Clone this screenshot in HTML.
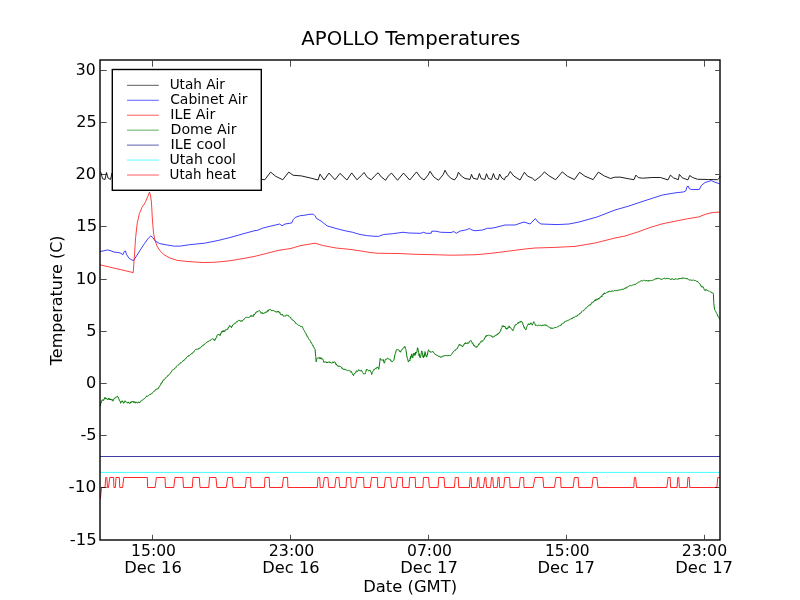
<!DOCTYPE html>
<html lang="en">
<head>
<meta charset="utf-8">
<title>APOLLO Temperatures</title>
<style>
html,body{margin:0;padding:0;background:#fff;}
body{width:800px;height:600px;overflow:hidden;}
svg{display:block;}
text{font-family:"DejaVu Sans","Liberation Sans",sans-serif;fill:#000;}
.tk{font-size:16.67px;}
.lg{font-size:13.89px;}
.ttl{font-size:19.44px;}
.ln{fill:none;stroke-width:0.75;stroke-linejoin:round;stroke-linecap:butt;}
.tick{stroke:#000;stroke-width:0.7;}
</style>
</head>
<body>
<svg width="800" height="600" viewBox="0 0 800 600">
<rect x="0" y="0" width="800" height="600" fill="#fff"/>

<g id="curves">
<polyline class="ln" style="stroke-width:0.88" stroke="#000" points="100.00,171.90 101.00,172.50 102.50,178.75 105.00,179.50 106.50,172.50 108.00,178.00 110.50,179.50 112.00,173.00 114.00,178.00 116.00,179.60"/>
<polyline class="ln" style="stroke-width:0.88" stroke="#000" points="261.90,179.40 264.75,179.75 270.60,172.10 275.60,176.25 282.75,179.75 288.75,172.10 293.10,175.25 301.25,175.90 310.00,177.90 318.10,180.00 320.00,174.10 324.10,180.00 329.00,173.10 335.00,179.75 340.00,173.40 346.90,180.00 351.70,172.90 356.90,179.75 361.25,175.60 364.00,172.50 367.50,177.50 371.25,179.75 375.00,175.60 378.10,172.75 381.25,176.90 385.60,180.25 388.10,176.25 391.50,173.10 397.50,180.25 403.50,173.10 409.75,180.00 416.50,171.90 420.60,177.50 424.00,180.00 428.10,175.00 430.00,171.25 433.75,176.90 438.50,180.25 443.10,174.75 445.00,170.25 447.50,174.75 450.60,178.10 454.40,180.00 456.90,176.90 458.40,172.25 461.25,176.00 465.00,178.50 470.00,179.40 471.50,174.40 473.10,178.10 477.50,179.40 479.40,173.50 481.25,178.50 484.75,179.60 486.50,173.75 488.50,178.50 491.50,179.60 493.40,173.50 495.25,178.50 498.10,179.60 499.60,174.10 501.90,178.10 504.40,179.75 505.60,176.90 507.50,176.25 510.25,171.50 513.75,176.00 520.00,180.00 522.50,175.60 524.40,172.25 527.50,176.10 532.50,178.30 535.00,180.60 541.25,175.60 544.40,171.90 548.75,175.60 555.60,179.75 562.25,171.90 567.50,176.25 574.40,179.60 579.60,172.25 585.00,176.25 593.10,179.60 598.40,172.10 604.40,176.00 610.60,178.50 614.40,177.25 620.00,177.10 628.75,178.80 634.00,179.70 635.90,175.10 638.40,177.60 642.50,178.20 652.10,177.50 660.40,177.50 668.00,179.90 670.40,175.10 673.50,177.90 678.30,179.70 679.40,174.40 682.40,177.90 687.90,179.90 689.70,175.50 692.70,177.50 697.50,179.25 708.50,179.50 717.50,179.70 719.50,177.90 720.00,175.80"/>
<polyline class="ln" stroke="#00f" points="100.00,251.50 103.00,251.00 107.50,249.90 111.00,250.80 114.00,252.10 118.80,252.60 121.00,253.30 122.80,254.70 124.20,251.60 125.40,250.90 126.60,254.60 129.20,258.40 131.50,259.80 133.50,260.50 136.50,256.00 140.00,250.40 144.50,243.50 148.25,238.25 150.80,236.00 152.75,237.50 155.00,240.80 159.50,243.50 167.00,245.00 174.50,246.20 180.50,246.05 189.50,244.70 204.50,243.20 218.00,240.50 230.00,237.50 245.00,233.30 255.00,230.60 257.25,230.40 262.50,228.20 270.00,226.25 279.75,224.00 282.00,225.80 285.00,224.00 291.75,222.95 293.25,219.50 295.50,217.25 300.00,215.75 306.00,215.00 309.75,214.25 313.50,214.25 315.00,215.75 316.50,218.45 321.00,221.00 327.00,225.80 336.00,228.50 345.00,230.75 352.50,232.25 360.00,234.50 367.50,235.70 375.00,236.30 378.25,236.45 383.50,234.50 392.50,233.75 403.00,232.25 409.00,233.00 421.00,233.30 423.25,232.25 426.25,233.30 431.20,233.30 431.80,231.20 436.00,231.20 440.50,232.25 451.00,232.55 453.70,231.50 456.25,233.30 460.00,231.05 466.75,229.70 469.30,228.50 472.00,230.00 475.00,230.75 482.50,230.00 487.75,228.20 490.00,228.40 495.00,227.60 505.00,225.00 515.00,225.00 524.00,222.00 530.00,224.00 535.40,218.60 538.00,222.00 541.00,224.00 557.00,224.60 569.00,224.00 579.00,222.00 597.00,217.00 615.00,210.00 629.00,206.00 637.50,203.10 650.00,199.00 662.50,195.00 675.00,192.90 683.75,191.90 686.00,190.60 686.90,186.90 688.10,186.00 689.40,188.75 691.90,189.60 699.40,189.40 701.25,185.60 705.00,182.50 711.25,180.60 715.00,182.25 719.60,183.75"/>
<polyline class="ln" stroke="#f00" points="100.00,264.80 133.20,272.60 134.40,256.00 135.60,237.80 137.20,223.40 139.30,213.80 142.00,207.40 145.20,202.60 147.50,197.20 149.50,192.10 150.60,196.00 151.50,203.00 152.30,218.00 153.50,233.00 155.00,240.50 157.25,246.50 160.25,251.00 164.00,254.75 170.00,258.05 177.50,260.45 188.00,261.50 203.00,262.55 215.00,262.25 230.00,260.75 245.00,258.20 255.00,256.30 267.00,253.25 279.00,250.25 291.00,248.45 300.00,245.75 315.00,243.20 322.50,245.45 336.00,248.00 351.00,249.50 363.00,251.30 370.00,252.50 377.50,253.25 400.00,253.55 415.00,254.30 436.00,254.75 451.00,255.20 460.00,255.05 475.00,254.75 484.00,254.00 490.00,253.40 505.00,251.60 525.00,249.00 535.00,248.00 555.00,247.40 575.00,246.40 595.00,243.00 615.00,238.00 625.00,236.00 637.50,232.10 650.00,227.50 662.50,223.75 675.00,221.25 687.50,218.75 698.75,216.90 706.25,214.00 712.50,212.50 719.60,212.10"/>
<polyline class="ln" style="stroke-width:1.0" stroke="#007a00" points="100.25,406.25 100.65,404.17 101.05,402.09 101.10,402.50 101.45,402.10 101.85,400.29 102.25,400.35 102.40,400.00 102.65,399.88 103.05,399.53 103.45,400.54 103.60,400.60 103.85,399.29 104.25,399.23 104.65,397.81 104.90,398.10 105.05,397.44 105.45,398.23 105.85,399.15 106.25,398.08 106.65,398.45 106.75,399.00 107.05,399.15 107.45,399.62 107.85,398.84 108.25,398.41 108.60,398.50 108.65,399.40 109.05,398.04 109.45,399.82 109.85,399.11 110.25,399.16 110.50,400.00 110.65,399.24 111.05,399.39 111.45,400.11 111.75,399.40 111.85,398.97 112.25,400.29 112.65,400.98 113.00,401.25 113.05,400.94 113.45,400.59 113.85,399.05 114.25,398.38 114.65,397.99 114.90,398.10 115.05,398.31 115.45,397.56 115.85,397.06 116.25,397.26 116.65,396.72 117.05,396.15 117.40,396.25 117.45,396.86 117.85,397.30 118.25,397.10 118.60,398.10 118.65,398.35 119.05,399.19 119.45,400.74 119.85,401.41 120.25,401.54 120.50,402.50 120.65,403.27 121.05,401.45 121.45,401.73 121.85,402.07 122.25,400.72 122.40,401.25 122.65,401.62 123.05,401.42 123.45,403.17 123.60,403.10 123.85,403.17 124.25,402.18 124.65,402.08 124.90,401.00 125.05,400.75 125.45,401.68 125.85,401.73 126.25,401.95 126.65,401.96 126.75,402.10 127.05,402.81 127.45,403.12 127.85,402.41 128.25,402.88 128.65,401.92 129.05,403.20 129.25,402.90 129.45,403.10 129.85,403.60 130.25,403.16 130.65,402.06 131.05,402.12 131.45,402.50 131.75,402.10 131.85,401.25 132.25,402.08 132.65,401.60 133.05,401.55 133.45,401.49 133.85,402.81 134.25,401.70 134.65,401.96 135.05,402.26 135.45,403.16 135.50,402.50 135.85,401.72 136.25,402.36 136.65,402.51 137.05,403.09 137.45,402.94 137.85,403.00 138.25,401.92 138.65,402.14 139.05,402.01 139.25,402.25 139.45,402.83 139.85,402.75 140.25,401.36 140.65,401.17 141.05,401.01 141.45,400.80 141.75,400.90 141.85,400.79 142.25,400.52 142.65,399.83 143.05,399.20 143.45,399.24 143.85,398.82 144.25,398.64 144.65,398.66 145.05,398.02 145.45,397.47 145.85,397.20 146.25,396.89 146.65,395.90 146.75,396.25 147.05,396.51 147.45,396.21 147.85,396.13 148.25,395.87 148.65,395.29 149.05,395.11 149.45,394.64 149.85,394.99 150.25,394.24 150.65,394.06 151.05,394.02 151.45,393.80 151.75,394.00 151.85,393.73 152.25,393.02 152.65,392.54 153.05,392.26 153.45,391.79 153.85,391.62 154.25,390.86 154.65,391.28 155.05,390.59 155.45,389.70 155.50,390.00 155.85,389.54 156.25,389.39 156.65,389.16 157.05,388.67 157.45,389.15 157.85,389.05 158.25,388.28 158.60,388.10 158.65,388.00 159.05,386.90 159.45,386.22 159.85,385.77 160.25,384.99 160.65,384.86 161.05,383.50 161.10,383.75 161.45,382.75 161.85,383.08 162.25,382.05 162.65,381.07 163.05,380.87 163.45,379.75 163.60,380.00 163.85,379.78 164.25,379.83 164.65,379.31 165.05,378.75 165.45,377.91 165.85,377.62 166.25,377.02 166.65,377.22 167.05,376.58 167.45,376.43 167.85,375.58 168.00,375.60 168.25,375.04 168.65,375.18 169.05,374.91 169.45,374.33 169.85,373.83 170.25,373.40 170.65,372.87 171.05,371.91 171.45,371.75 171.85,371.14 172.25,370.37 172.65,369.92 173.00,370.00 173.05,369.73 173.45,369.31 173.85,369.34 174.25,369.21 174.65,368.30 175.05,368.39 175.45,368.04 175.85,367.61 176.25,366.61 176.65,366.07 177.05,365.68 177.45,365.25 177.85,364.85 178.00,365.00 178.25,364.92 178.65,364.88 179.05,364.50 179.45,363.82 179.85,363.67 180.25,363.50 180.65,362.46 181.05,362.72 181.45,362.65 181.85,362.20 182.25,361.85 182.65,361.26 183.00,361.00 183.05,360.63 183.45,360.86 183.85,360.03 184.25,360.11 184.65,359.90 185.05,358.95 185.45,358.57 185.85,358.74 186.25,358.14 186.65,357.20 187.05,356.78 187.45,356.42 187.85,356.80 188.00,356.25 188.25,356.39 188.65,355.46 189.05,355.88 189.45,355.76 189.85,355.17 190.25,354.60 190.65,354.53 191.05,353.85 191.45,353.46 191.75,353.75 191.85,354.11 192.25,353.37 192.65,352.82 193.05,352.80 193.45,351.87 193.85,351.88 194.25,351.41 194.65,350.37 195.05,349.98 195.45,349.60 195.50,349.75 195.85,349.39 196.25,349.61 196.65,349.16 197.05,349.20 197.45,348.80 197.85,349.46 198.00,349.00 198.25,348.70 198.65,348.56 199.05,348.44 199.45,348.51 199.85,347.78 200.25,348.03 200.65,347.37 201.05,347.15 201.25,347.00 201.45,346.85 201.85,346.00 202.25,346.08 202.65,345.48 203.05,344.96 203.45,345.41 203.85,344.44 204.25,344.40 204.65,344.31 205.05,343.80 205.45,343.23 205.85,343.08 206.25,342.77 206.50,342.50 206.65,342.69 207.05,341.76 207.45,341.97 207.85,341.40 208.25,341.18 208.65,341.43 209.05,340.91 209.45,340.72 209.85,340.67 210.25,340.57 210.65,339.85 211.05,339.77 211.45,339.41 211.85,339.17 212.25,339.10 212.50,338.75 212.65,338.77 213.05,339.07 213.45,339.15 213.85,340.17 214.25,339.93 214.65,340.43 214.75,339.80 215.05,340.12 215.45,338.25 215.85,338.15 216.25,338.20 216.65,337.37 217.05,335.47 217.45,334.80 217.75,335.00 217.85,334.90 218.25,334.23 218.65,334.53 219.05,334.23 219.45,335.31 219.85,335.51 220.00,335.00 220.25,335.30 220.65,333.29 221.05,333.64 221.45,332.87 221.85,331.27 222.25,331.25 222.25,331.94 222.65,332.01 223.05,330.59 223.45,331.82 223.85,330.75 224.25,330.83 224.50,330.80 224.65,331.61 225.05,331.12 225.45,329.72 225.85,330.00 226.25,329.95 226.65,329.44 227.05,328.98 227.45,329.00 227.50,329.30 227.85,329.19 228.25,327.34 228.65,327.71 229.05,326.92 229.45,325.57 229.75,326.00 229.85,325.76 230.25,326.56 230.65,326.62 231.05,326.08 231.25,327.00 231.45,327.66 231.85,326.87 232.25,326.39 232.65,325.09 233.05,324.82 233.45,324.16 233.85,324.46 234.25,323.75 234.25,323.52 234.65,323.09 235.05,323.09 235.45,323.28 235.85,322.90 236.25,322.04 236.65,321.64 237.05,322.12 237.45,321.47 237.85,321.31 238.25,320.41 238.65,320.08 238.75,320.45 239.05,320.71 239.45,320.55 239.85,320.30 240.25,321.26 240.65,321.06 241.05,321.33 241.45,320.71 241.75,321.20 241.85,321.46 242.25,320.31 242.65,320.73 243.05,319.96 243.45,319.48 243.85,319.32 244.25,319.33 244.65,318.30 245.05,317.79 245.45,317.82 245.50,317.75 245.85,317.46 246.25,317.30 246.65,317.32 247.05,317.18 247.45,317.30 247.85,317.37 248.25,317.34 248.65,317.76 249.05,317.26 249.25,317.45 249.45,317.29 249.85,316.65 250.25,316.41 250.65,315.56 250.75,316.25 251.05,315.85 251.45,315.47 251.85,316.62 252.25,316.33 252.65,315.75 253.00,316.25 253.05,316.14 253.45,316.34 253.85,314.47 254.25,315.07 254.65,313.91 255.05,313.47 255.45,313.48 255.85,312.23 256.00,312.20 256.25,312.07 256.65,312.13 257.05,312.38 257.45,311.13 257.85,311.68 258.25,311.26 258.65,310.92 259.00,310.50 259.05,310.41 259.45,310.81 259.85,310.83 260.25,311.44 260.65,311.83 261.05,313.39 261.25,313.25 261.45,312.86 261.85,312.71 262.25,312.59 262.65,313.80 263.05,313.84 263.45,313.52 263.85,312.90 264.25,312.84 264.65,312.92 265.00,313.25 265.05,313.14 265.45,312.25 265.85,312.31 266.25,311.62 266.65,312.34 267.05,311.96 267.25,311.00 267.45,310.98 267.85,310.29 268.25,311.25 268.65,310.00 269.05,309.87 269.45,309.10 269.85,309.51 270.25,309.50 270.25,309.46 270.65,309.90 271.05,309.82 271.45,310.71 271.75,311.00 271.85,310.22 272.25,310.71 272.65,310.49 273.05,311.06 273.45,310.55 273.85,310.59 274.25,311.10 274.65,311.06 275.05,311.69 275.45,311.66 275.85,312.08 276.25,311.75 276.25,312.00 276.65,312.04 277.05,312.25 277.45,311.41 277.85,311.26 278.25,312.26 278.50,311.45 278.65,311.06 279.05,312.43 279.45,312.76 279.85,312.25 280.25,313.97 280.65,314.51 280.75,314.00 281.05,314.38 281.45,314.79 281.85,315.16 282.25,314.32 282.65,315.18 283.05,315.39 283.45,316.16 283.75,315.80 283.85,316.28 284.25,316.29 284.65,315.87 285.05,316.34 285.45,315.98 285.85,315.97 286.25,315.20 286.65,314.86 287.05,314.99 287.45,315.33 287.85,314.89 288.25,315.50 288.25,316.04 288.65,315.99 289.05,316.50 289.45,316.90 289.85,317.39 290.25,317.48 290.65,317.11 291.05,318.78 291.45,319.10 291.85,319.10 292.00,319.25 292.25,319.54 292.65,320.06 293.05,319.87 293.45,320.94 293.85,320.85 294.25,321.07 294.65,321.67 295.05,322.53 295.45,322.41 295.85,323.34 296.25,323.98 296.50,323.75 296.65,323.85 297.05,324.02 297.45,324.39 297.85,324.88 298.25,325.24 298.65,325.37 299.05,325.68 299.45,325.39 299.85,325.74 300.00,326.20 300.25,326.02 300.65,326.62 301.05,326.28 301.45,326.65 301.85,326.21 302.25,326.36 302.25,326.80 302.65,327.34 303.05,328.51 303.45,329.30 303.85,330.05 304.25,330.43 304.65,331.42 305.05,332.14 305.45,332.91 305.85,333.33 306.00,334.00 306.25,334.81 306.65,334.78 307.05,336.23 307.45,336.85 307.85,336.60 308.25,337.71 308.65,338.74 309.05,339.55 309.45,339.70 309.85,340.19 310.25,340.79 310.50,341.50 310.65,342.20 311.05,342.13 311.45,343.16 311.85,343.39 312.25,344.44 312.65,345.54 313.05,345.38 313.45,346.74 313.85,347.09 314.25,348.14 314.65,348.62 315.00,349.00 315.05,349.23 315.45,353.90 315.75,356.50 315.85,357.65 316.20,361.75 316.25,361.06 316.65,359.31 317.00,358.30 317.05,358.29 317.45,358.21 317.85,358.02 318.25,357.68 318.65,357.93 319.05,357.85 319.45,358.55 319.85,357.34 320.25,358.35 320.25,358.00 320.65,358.61 321.05,357.73 321.45,359.00 321.85,358.83 322.25,359.23 322.50,358.75 322.65,358.78 323.05,359.76 323.45,360.66 323.85,362.37 324.00,362.00 324.25,362.17 324.65,361.91 325.05,362.07 325.45,361.93 325.85,361.68 326.25,361.82 326.65,362.91 327.00,362.50 327.05,362.19 327.45,363.03 327.85,362.01 328.25,361.96 328.65,362.24 329.05,361.72 329.45,361.91 329.85,362.66 330.00,362.00 330.25,362.63 330.65,362.67 331.05,362.56 331.45,363.09 331.85,363.27 332.25,362.87 332.25,362.80 332.65,362.92 333.05,361.80 333.45,362.57 333.85,361.98 334.25,362.22 334.50,361.75 334.65,362.18 335.05,362.29 335.45,362.58 335.85,364.42 336.25,363.91 336.65,365.01 336.75,365.20 337.05,365.13 337.45,365.25 337.85,366.06 338.25,366.59 338.65,365.78 339.05,366.52 339.45,366.22 339.85,366.77 340.25,366.73 340.50,367.00 340.65,366.63 341.05,366.89 341.45,367.22 341.85,368.47 342.25,368.16 342.65,368.04 343.05,369.27 343.45,369.66 343.85,369.16 344.25,369.00 344.65,369.34 345.00,370.00 345.05,369.43 345.45,369.83 345.85,369.53 346.25,369.78 346.65,369.86 347.05,370.34 347.45,370.84 347.85,370.69 348.25,370.27 348.65,370.32 348.75,370.45 349.05,370.66 349.45,370.70 349.85,370.88 350.25,370.74 350.65,371.28 351.05,372.48 351.45,371.55 351.75,372.25 351.85,372.45 352.25,373.42 352.65,374.53 353.05,374.42 353.45,375.28 353.50,375.70 353.85,374.69 354.25,374.15 354.65,373.47 355.05,373.43 355.45,372.53 355.50,371.95 355.85,372.29 356.25,370.89 356.65,370.70 357.05,371.44 357.45,371.49 357.85,370.69 358.25,370.64 358.65,369.61 359.05,369.95 359.25,370.00 359.45,370.66 359.85,370.66 360.25,370.83 360.65,371.13 361.05,370.25 361.45,370.19 361.50,370.75 361.85,370.73 362.25,371.78 362.65,372.54 363.05,373.43 363.45,373.66 363.75,373.75 363.85,373.96 364.25,374.12 364.65,373.69 365.05,373.82 365.25,373.75 365.45,372.39 365.85,371.99 366.25,369.78 366.50,369.25 366.65,369.97 367.05,369.93 367.45,369.79 367.85,369.89 368.25,370.40 368.25,370.75 368.65,370.94 369.05,371.03 369.45,370.21 369.85,370.15 370.25,370.78 370.50,370.75 370.65,371.33 371.05,372.31 371.45,373.33 371.70,374.50 371.85,374.24 372.25,372.35 372.65,371.69 373.05,370.84 373.45,370.48 373.50,369.70 373.85,369.72 374.25,369.84 374.65,369.05 375.05,368.50 375.45,368.31 375.75,368.50 375.85,369.08 376.25,368.45 376.65,367.63 377.05,366.96 377.45,367.36 377.85,367.34 378.00,367.00 378.25,367.64 378.65,368.61 378.75,369.25 379.05,367.38 379.45,364.95 379.85,361.17 380.25,358.28 380.25,358.75 380.65,358.99 381.05,359.47 381.45,360.13 381.75,360.25 381.85,359.90 382.25,360.30 382.65,360.04 383.05,359.60 383.25,359.50 383.45,359.92 383.85,362.11 384.25,362.88 384.30,363.25 384.65,362.48 385.05,360.64 385.45,359.38 385.50,359.50 385.85,359.57 386.25,358.89 386.65,359.34 387.05,358.67 387.45,358.15 387.75,358.30 387.85,358.08 388.25,358.48 388.65,358.95 389.05,359.44 389.45,358.85 389.85,359.31 390.00,359.50 390.25,359.53 390.65,360.79 391.05,360.45 391.45,360.86 391.80,361.75 391.85,361.27 392.25,361.30 392.65,361.49 393.05,361.17 393.45,360.71 393.75,360.25 393.85,360.30 394.25,358.43 394.65,356.03 395.05,354.09 395.25,353.50 395.45,353.38 395.85,352.07 396.25,350.23 396.65,349.74 396.75,349.30 397.05,349.34 397.45,349.55 397.85,349.72 398.25,349.77 398.65,349.82 399.00,350.50 399.05,350.33 399.45,350.80 399.85,351.81 400.25,351.37 400.50,352.00 400.65,352.19 401.05,350.72 401.45,350.15 401.85,349.89 402.00,349.30 402.25,349.38 402.65,348.61 403.05,347.85 403.45,347.90 403.85,347.42 404.25,347.58 404.65,346.48 405.00,346.45 405.05,346.52 405.45,348.67 405.85,349.42 406.00,350.50 406.25,351.91 406.65,354.71 407.05,357.07 407.25,358.00 407.45,358.30 407.85,359.82 408.25,361.37 408.30,362.00 408.65,361.84 409.05,360.51 409.45,360.33 409.85,361.01 410.25,358.11 410.25,358.75 410.65,356.32 411.05,357.54 411.45,354.66 411.50,354.00 411.85,354.14 412.25,357.21 412.65,356.86 412.70,357.75 413.05,355.80 413.45,353.52 413.85,355.32 414.20,353.25 414.25,354.94 414.65,354.01 415.05,355.45 415.45,351.97 415.70,354.00 415.85,352.44 416.25,352.07 416.65,352.66 417.05,351.32 417.45,347.71 417.50,348.00 417.85,348.40 418.25,350.72 418.65,352.57 419.00,354.00 419.05,355.84 419.45,353.86 419.85,357.34 420.20,357.00 420.25,357.75 420.65,356.49 421.05,354.69 421.45,352.43 421.70,351.00 421.85,350.87 422.25,352.34 422.65,354.01 423.05,357.19 423.45,355.88 423.50,357.75 423.85,355.49 424.25,356.51 424.65,353.29 425.00,353.25 425.05,351.63 425.45,352.51 425.85,355.59 426.20,356.25 426.25,355.44 426.65,357.11 427.05,355.78 427.45,355.26 427.85,351.94 428.25,350.68 428.65,349.76 428.75,350.25 429.05,350.64 429.45,351.54 429.85,351.58 430.25,351.72 430.25,352.20 430.65,351.89 431.05,352.10 431.45,352.03 431.85,352.01 432.25,351.75 432.50,351.30 432.65,351.64 433.05,351.55 433.45,352.73 433.85,352.65 434.25,353.38 434.65,353.65 435.05,354.47 435.45,354.39 435.50,354.75 435.85,354.65 436.25,354.82 436.65,354.90 437.05,355.80 437.45,355.66 437.85,355.58 438.25,355.82 438.65,356.59 439.05,356.28 439.45,356.17 439.85,356.92 440.25,356.94 440.65,357.45 440.75,357.00 441.05,356.50 441.45,356.74 441.85,356.95 442.25,356.84 442.65,356.78 443.05,355.77 443.45,355.89 443.85,355.59 444.25,355.52 444.65,356.17 445.05,355.65 445.25,355.50 445.45,355.94 445.85,355.41 446.25,355.92 446.65,355.53 447.05,355.36 447.45,355.90 447.85,356.09 448.25,355.28 448.65,355.79 449.05,355.84 449.45,355.46 449.85,355.63 450.25,355.43 450.50,355.80 450.65,355.30 451.05,354.81 451.45,354.62 451.85,354.13 452.25,353.14 452.65,352.41 453.05,352.18 453.45,352.00 453.50,351.75 453.85,351.16 454.25,350.96 454.65,350.53 455.05,350.92 455.45,350.26 455.85,349.26 456.25,348.99 456.65,349.08 457.05,348.98 457.25,348.75 457.45,348.54 457.85,346.98 458.25,346.28 458.65,346.22 459.05,345.02 459.45,344.05 459.50,344.25 459.85,344.24 460.25,345.45 460.65,344.85 461.05,345.51 461.45,345.51 461.85,345.90 462.25,346.82 462.50,346.50 462.65,347.01 463.05,345.62 463.45,344.89 463.85,345.13 464.25,343.90 464.65,343.12 465.05,343.87 465.45,342.71 465.50,342.75 465.85,343.32 466.25,342.87 466.65,343.67 467.05,343.21 467.45,342.93 467.75,343.50 467.85,342.72 468.25,343.07 468.65,342.80 469.05,342.77 469.45,341.22 469.85,341.57 470.25,340.82 470.65,340.61 470.75,340.50 471.05,340.45 471.45,341.25 471.85,342.18 472.25,343.35 472.65,342.80 473.05,343.94 473.45,344.98 473.75,345.00 473.85,345.74 474.25,345.02 474.65,345.27 475.05,346.77 475.45,347.17 475.85,346.83 476.25,346.58 476.30,347.25 476.65,347.46 477.05,346.26 477.45,346.54 477.85,345.70 478.25,345.54 478.65,344.16 479.00,344.25 479.05,344.58 479.45,343.26 479.85,342.98 480.25,343.07 480.65,342.51 481.05,341.07 481.25,341.25 481.45,340.86 481.85,341.11 482.25,341.28 482.65,341.09 482.75,341.25 483.05,340.27 483.45,339.83 483.85,339.89 484.25,339.53 484.65,337.72 485.05,337.84 485.45,337.51 485.85,335.89 486.25,336.40 486.50,335.55 486.65,335.00 487.05,335.63 487.45,335.53 487.85,335.59 488.25,335.10 488.65,335.22 489.05,335.41 489.45,335.15 489.50,335.25 489.85,335.65 490.25,335.57 490.65,335.76 491.05,335.39 491.45,336.43 491.85,336.46 492.25,336.31 492.65,337.26 493.05,337.49 493.25,337.20 493.45,337.01 493.85,336.37 494.25,336.52 494.65,335.75 495.05,335.53 495.45,335.69 495.85,334.96 496.25,335.20 496.65,335.04 497.00,334.80 497.05,334.11 497.45,334.61 497.85,333.49 498.25,334.06 498.65,333.79 499.05,333.07 499.45,332.09 499.85,332.38 500.00,332.25 500.25,331.36 500.65,331.02 501.05,328.73 501.45,328.59 501.85,327.64 502.25,326.12 502.25,325.80 502.65,326.32 503.05,325.53 503.45,326.71 503.85,326.11 504.25,326.84 504.50,326.25 504.65,327.03 505.05,326.51 505.45,327.92 505.85,328.65 506.25,327.98 506.65,328.91 506.75,329.25 507.05,329.21 507.45,327.84 507.85,328.34 508.25,326.93 508.65,327.16 509.00,326.25 509.05,325.81 509.45,326.79 509.85,327.86 510.25,327.34 510.65,327.90 511.05,328.72 511.45,328.94 511.85,329.02 512.25,329.70 512.65,330.16 512.75,330.75 513.05,330.62 513.45,329.27 513.85,328.59 514.25,326.59 514.65,326.46 515.00,325.20 515.05,324.62 515.45,324.91 515.85,324.75 516.25,324.07 516.65,324.48 517.05,323.74 517.45,323.47 517.85,323.60 518.00,322.95 518.25,322.26 518.65,323.28 519.05,322.55 519.45,322.00 519.85,322.35 520.25,321.38 520.65,322.18 521.00,321.30 521.05,321.45 521.45,321.46 521.85,322.35 522.25,322.22 522.50,322.50 522.65,322.56 523.05,324.71 523.45,325.10 523.75,326.75 523.85,327.33 524.25,327.07 524.65,328.14 525.05,329.16 525.45,329.14 525.85,329.78 526.00,329.75 526.25,328.82 526.65,327.32 527.05,326.30 527.45,325.39 527.85,324.98 528.25,323.66 528.25,323.75 528.65,323.97 529.05,324.70 529.45,323.83 529.75,324.50 529.85,324.02 530.25,324.15 530.65,323.12 531.05,322.70 531.25,323.00 531.45,323.28 531.85,323.89 532.25,325.00 532.30,325.25 532.65,324.17 533.05,323.61 533.45,322.69 533.80,321.80 533.85,321.60 534.25,322.79 534.65,323.41 535.05,323.84 535.45,325.41 535.75,325.55 535.85,325.29 536.25,325.16 536.65,325.07 537.05,325.58 537.45,325.79 537.85,325.66 538.25,325.25 538.65,325.08 539.05,324.80 539.45,325.40 539.50,325.25 539.85,325.31 540.25,325.10 540.65,325.40 541.05,325.19 541.45,325.69 541.85,325.48 542.25,325.00 542.65,325.65 543.05,324.79 543.45,325.28 543.85,325.16 544.25,324.99 544.65,324.81 545.05,325.53 545.45,324.76 545.85,325.30 546.25,325.69 546.25,325.25 546.65,325.16 547.05,325.48 547.45,326.16 547.85,326.32 548.25,326.72 548.65,327.16 549.05,326.79 549.45,327.19 549.85,327.45 550.25,327.47 550.65,328.57 550.75,328.25 551.05,328.51 551.45,328.42 551.85,327.68 552.25,328.49 552.65,328.37 553.05,328.06 553.45,328.31 553.85,328.00 554.25,327.74 554.65,327.60 555.05,327.70 555.25,327.95 555.45,327.39 555.85,327.48 556.25,327.69 556.65,327.43 557.05,327.37 557.45,327.03 557.85,326.38 558.25,326.46 558.65,326.14 559.05,326.28 559.45,325.81 559.85,325.35 560.25,325.52 560.50,325.25 560.65,325.60 561.05,324.53 561.45,324.87 561.85,323.69 562.25,323.61 562.65,323.27 563.05,323.45 563.45,323.33 563.85,322.82 564.25,322.08 564.65,322.31 565.05,321.44 565.45,321.03 565.75,321.05 565.85,321.42 566.25,320.98 566.65,320.88 567.05,320.70 567.45,320.85 567.85,320.18 568.25,320.39 568.65,320.09 569.05,320.09 569.45,319.51 569.85,319.63 570.25,319.32 570.65,318.90 571.00,318.95 571.05,318.64 571.45,318.85 571.85,318.10 572.25,318.74 572.65,317.77 573.05,317.45 573.45,317.33 573.85,317.95 574.25,317.17 574.65,316.77 575.05,316.45 575.45,316.27 575.85,316.72 576.25,316.46 576.65,316.32 577.00,315.95 577.05,316.14 577.45,315.14 577.85,315.32 578.25,314.76 578.65,314.87 579.05,314.54 579.45,314.27 579.85,313.11 580.25,313.57 580.65,313.28 581.05,312.97 581.45,311.80 581.85,311.56 582.25,311.13 582.65,310.71 583.05,311.19 583.45,310.82 583.75,310.25 583.85,310.30 584.25,310.13 584.65,309.58 585.05,308.88 585.45,308.34 585.85,307.98 586.25,308.29 586.65,307.38 587.05,307.14 587.45,306.88 587.85,306.13 588.25,306.01 588.65,305.68 589.05,305.75 589.45,305.05 589.85,304.65 590.25,305.21 590.50,304.25 590.65,304.13 591.05,304.35 591.45,303.65 591.85,302.37 592.25,302.65 592.65,302.36 593.05,302.56 593.45,301.55 593.85,301.79 594.25,301.19 594.65,300.34 595.00,300.50 595.05,301.05 595.45,299.62 595.85,300.59 596.25,299.35 596.65,298.88 597.05,299.00 597.45,299.69 597.85,299.84 598.25,298.08 598.65,298.66 599.05,298.46 599.45,298.75 599.50,298.25 599.85,297.40 600.25,297.49 600.65,296.86 601.05,297.23 601.45,295.92 601.85,296.61 602.25,295.15 602.65,294.64 603.05,295.02 603.45,294.30 603.85,293.28 604.00,293.75 604.25,293.86 604.65,292.80 605.05,293.76 605.45,293.45 605.85,293.42 606.25,292.92 606.65,292.48 607.05,292.36 607.45,292.18 607.85,292.50 608.25,291.53 608.65,292.16 609.05,291.13 609.45,291.14 609.85,291.03 610.00,291.20 610.25,291.58 610.65,291.14 611.05,290.97 611.45,291.44 611.85,290.75 612.25,290.94 612.65,290.97 613.05,291.15 613.45,291.11 613.85,290.96 614.25,290.62 614.65,290.56 615.05,290.35 615.45,291.00 615.85,290.78 616.25,290.82 616.65,290.20 617.05,290.43 617.45,290.73 617.50,290.45 617.85,290.46 618.25,289.93 618.65,290.18 619.05,290.53 619.45,289.80 619.85,289.67 620.25,289.70 620.65,290.02 621.05,290.08 621.45,289.31 621.85,289.24 622.25,289.25 622.65,289.25 623.05,289.36 623.45,288.92 623.50,289.25 623.85,288.88 624.25,288.51 624.65,289.07 625.05,288.59 625.45,287.74 625.85,288.37 626.25,287.28 626.65,287.33 627.05,287.71 627.45,287.29 627.85,287.00 628.25,286.47 628.65,286.00 628.75,286.25 629.05,286.30 629.45,285.65 629.85,285.63 630.25,285.69 630.65,285.22 631.05,285.47 631.45,285.74 631.85,285.53 632.25,285.21 632.65,285.23 633.05,284.94 633.45,284.50 633.85,284.84 634.25,284.53 634.65,284.74 635.00,284.40 635.05,284.77 635.45,284.03 635.85,283.91 636.25,283.82 636.65,283.22 637.05,282.76 637.45,282.99 637.85,282.88 638.25,282.51 638.65,282.17 638.75,281.90 639.05,282.15 639.45,281.85 639.85,281.68 640.25,281.36 640.65,281.09 641.05,281.27 641.45,280.61 641.85,280.80 642.25,281.03 642.65,280.83 643.05,280.61 643.45,280.10 643.75,280.25 643.85,280.19 644.25,280.28 644.65,280.51 645.05,280.35 645.45,280.68 645.85,280.99 646.25,280.31 646.65,280.84 647.05,281.02 647.45,280.69 647.85,280.85 648.10,280.90 648.25,281.35 648.65,280.36 649.05,280.80 649.45,280.36 649.85,280.92 650.25,281.02 650.65,280.54 651.05,280.07 651.45,280.48 651.85,280.39 652.25,280.50 652.50,280.25 652.65,280.19 653.05,280.12 653.45,280.12 653.85,279.62 654.25,279.31 654.65,279.66 655.05,278.73 655.45,279.01 655.60,278.75 655.85,278.61 656.25,278.94 656.65,278.26 657.05,279.07 657.45,278.40 657.85,278.06 658.25,278.23 658.65,278.31 658.75,278.40 659.05,278.03 659.45,278.60 659.85,278.76 660.25,279.20 660.65,279.01 661.05,279.09 661.25,279.40 661.45,279.05 661.85,279.43 662.25,279.48 662.65,278.92 663.05,278.47 663.45,278.91 663.75,278.50 663.85,278.39 664.25,278.21 664.65,278.13 665.05,278.78 665.45,278.81 665.85,278.63 666.25,278.47 666.65,278.56 667.05,278.23 667.45,278.96 667.85,278.35 668.25,278.64 668.65,278.82 668.75,278.50 669.05,278.96 669.45,278.81 669.85,278.83 670.25,279.28 670.60,279.40 670.65,279.00 671.05,279.51 671.45,278.83 671.85,279.13 671.90,278.75 672.25,278.71 672.65,279.03 673.05,279.13 673.45,279.51 673.75,279.75 673.85,279.40 674.25,279.05 674.65,279.61 675.05,279.01 675.45,278.81 675.85,278.71 676.25,278.73 676.25,278.75 676.65,279.08 676.90,279.40 677.05,279.46 677.45,279.29 677.85,278.80 678.25,279.17 678.65,278.90 678.75,278.50 679.05,278.04 679.45,278.79 679.85,278.84 680.25,278.70 680.65,278.03 681.05,278.70 681.45,278.48 681.85,277.84 682.25,277.81 682.65,278.73 683.05,278.41 683.10,278.25 683.45,278.04 683.85,277.94 684.25,278.02 684.65,278.16 685.05,278.75 685.45,278.36 685.85,278.22 686.25,279.01 686.65,278.95 687.05,278.37 687.45,279.14 687.50,278.75 687.85,279.03 688.25,279.41 688.65,279.49 689.05,279.92 689.45,280.01 689.85,280.26 690.00,280.00 690.25,279.70 690.65,280.19 691.05,280.03 691.45,280.24 691.85,279.94 692.25,280.38 692.50,280.00 692.65,280.10 693.05,279.93 693.45,280.02 693.85,280.04 694.25,280.52 694.65,280.20 695.05,280.73 695.45,280.53 695.85,281.00 696.25,281.12 696.65,281.28 697.05,281.73 697.45,280.99 697.50,281.50 697.85,282.16 698.25,282.14 698.65,282.60 699.05,283.06 699.45,283.60 699.85,283.49 700.00,283.75 700.25,284.19 700.65,285.58 701.05,285.53 701.45,286.93 701.50,286.90 701.85,287.04 702.25,286.43 702.65,287.01 703.05,287.08 703.10,286.90 703.45,288.07 703.85,288.32 704.25,289.82 704.65,290.20 704.75,290.40 705.05,290.25 705.45,290.49 705.85,289.46 706.25,289.97 706.25,289.75 706.65,290.06 707.05,289.96 707.45,290.67 707.85,290.36 708.25,290.66 708.65,290.90 709.05,291.33 709.45,290.95 709.85,291.37 710.00,291.50 710.25,291.57 710.65,291.94 711.05,292.44 711.45,292.15 711.85,292.92 712.25,292.73 712.65,293.06 713.05,293.07 713.40,293.50 713.45,294.79 713.75,302.50 713.85,303.79 714.25,306.71 714.60,309.40 714.65,309.79 715.05,310.10 715.45,310.86 715.85,311.61 716.25,312.67 716.65,313.49 717.05,314.42 717.45,314.44 717.50,315.00 717.85,315.96 718.25,316.96 718.65,317.45 719.05,317.80 719.45,318.89 719.60,319.40"/>
<line class="ln" stroke="#000080" x1="100" x2="720" y1="456.5" y2="456.5"/>
<line class="ln" stroke="#0ff" x1="100" x2="720" y1="472.4" y2="472.4"/>
<polyline class="ln" style="stroke-width:0.85" stroke="#f00" stroke-linejoin="miter" points="100.40,498.80 101.60,487.50 105.00,487.50 105.75,477.50 106.80,477.50 107.50,487.50 108.50,487.50 109.75,477.50 113.62,477.50 113.90,487.50 115.40,487.50 116.00,477.50 119.30,477.50 119.75,487.50 122.60,487.50 123.75,477.50 147.35,477.50 147.60,487.50 155.10,487.50 156.40,477.50 164.97,477.50 165.50,487.50 173.75,487.50 175.00,477.50 182.87,477.50 183.50,487.50 192.25,487.50 193.00,477.50 199.30,477.50 200.00,487.50 208.75,487.50 209.50,477.50 215.99,477.50 216.90,487.50 226.25,487.50 227.75,477.50 232.26,477.50 233.10,487.50 245.40,487.50 246.25,477.50 250.55,477.50 250.90,487.50 264.40,487.50 265.00,477.50 269.18,477.50 269.60,487.50 282.25,487.50 283.50,477.50 287.55,477.50 287.90,487.50 317.25,487.50 318.00,477.50 319.65,477.50 320.25,487.50 322.90,487.50 324.40,477.50 327.88,477.50 328.75,487.50 334.75,487.50 336.00,477.50 338.88,477.50 339.75,487.50 346.00,487.50 346.60,477.50 350.65,477.50 351.25,487.50 355.60,487.50 356.90,477.50 363.58,477.50 364.00,487.50 370.25,487.50 371.60,477.50 377.40,477.50 377.75,487.50 384.25,487.50 385.40,477.50 390.62,477.50 391.50,487.50 396.25,487.50 397.50,477.50 402.40,477.50 402.75,487.50 409.00,487.50 409.60,477.50 415.18,477.50 415.60,487.50 422.90,487.50 423.50,477.50 428.49,477.50 429.40,487.50 438.10,487.50 438.75,477.50 444.05,477.50 444.75,487.50 454.40,487.50 455.25,477.50 458.30,477.50 458.75,487.50 469.40,487.50 470.10,477.50 471.11,477.50 471.60,487.50 476.70,487.50 477.70,477.50 478.77,477.50 479.40,487.50 483.50,487.50 484.75,477.50 485.87,477.50 486.50,487.50 490.60,487.50 491.50,477.50 492.80,477.50 493.50,487.50 497.25,487.50 498.00,477.50 499.18,477.50 499.60,487.50 503.75,487.50 504.75,477.50 509.58,477.50 510.00,487.50 519.10,487.50 520.25,477.50 523.65,477.50 524.00,487.50 533.10,487.50 535.00,477.50 542.88,477.50 543.75,487.50 554.40,487.50 556.00,477.50 560.58,477.50 561.00,487.50 573.10,487.50 574.40,477.50 578.15,477.50 578.75,487.50 591.90,487.50 593.10,477.50 596.92,477.50 597.90,487.50 633.75,487.50 634.40,477.50 635.62,477.50 636.50,487.50 666.90,487.50 668.10,477.50 670.18,477.50 670.60,487.50 677.10,487.50 677.75,477.50 678.77,477.50 679.40,487.50 687.25,487.50 687.90,477.50 689.23,477.50 689.75,487.50 716.90,487.50 717.75,477.50 719.80,477.50"/>
</g>
<g id="ticks">
<line class="tick" x1="100.7" x2="106.7" y1="487.50" y2="487.50"/>
<line class="tick" x1="719.3" x2="715.1" y1="487.50" y2="487.50"/>
<line class="tick" x1="100.7" x2="106.7" y1="435.50" y2="435.50"/>
<line class="tick" x1="719.3" x2="715.1" y1="435.50" y2="435.50"/>
<line class="tick" x1="100.7" x2="106.7" y1="383.50" y2="383.50"/>
<line class="tick" x1="719.3" x2="715.1" y1="383.50" y2="383.50"/>
<line class="tick" x1="100.7" x2="106.7" y1="331.50" y2="331.50"/>
<line class="tick" x1="719.3" x2="715.1" y1="331.50" y2="331.50"/>
<line class="tick" x1="100.7" x2="106.7" y1="279.50" y2="279.50"/>
<line class="tick" x1="719.3" x2="715.1" y1="279.50" y2="279.50"/>
<line class="tick" x1="100.7" x2="106.7" y1="226.50" y2="226.50"/>
<line class="tick" x1="719.3" x2="715.1" y1="226.50" y2="226.50"/>
<line class="tick" x1="100.7" x2="106.7" y1="174.50" y2="174.50"/>
<line class="tick" x1="719.3" x2="715.1" y1="174.50" y2="174.50"/>
<line class="tick" x1="100.7" x2="106.7" y1="122.50" y2="122.50"/>
<line class="tick" x1="719.3" x2="715.1" y1="122.50" y2="122.50"/>
<line class="tick" x1="100.7" x2="106.7" y1="70.50" y2="70.50"/>
<line class="tick" x1="719.3" x2="715.1" y1="70.50" y2="70.50"/>
<line class="tick" x1="152.50" x2="152.50" y1="539.3" y2="534.8"/>
<line class="tick" x1="152.50" x2="152.50" y1="60.7" y2="66.7"/>
<line class="tick" x1="290.50" x2="290.50" y1="539.3" y2="534.8"/>
<line class="tick" x1="290.50" x2="290.50" y1="60.7" y2="66.7"/>
<line class="tick" x1="428.50" x2="428.50" y1="539.3" y2="534.8"/>
<line class="tick" x1="428.50" x2="428.50" y1="60.7" y2="66.7"/>
<line class="tick" x1="566.50" x2="566.50" y1="539.3" y2="534.8"/>
<line class="tick" x1="566.50" x2="566.50" y1="60.7" y2="66.7"/>
<line class="tick" x1="704.50" x2="704.50" y1="539.3" y2="534.8"/>
<line class="tick" x1="704.50" x2="704.50" y1="60.7" y2="66.7"/>
</g>
<rect x="100" y="60" width="620" height="480" fill="none" stroke="#000" stroke-width="1.4"/>
<g id="labels">
<text class="tk" x="69.71" y="545.05" textLength="26.95" lengthAdjust="spacingAndGlyphs">-15</text>
<text class="tk" x="68.55" y="492.05" textLength="27.76" lengthAdjust="spacingAndGlyphs">-10</text>
<text class="tk" x="80.53" y="440.05" textLength="16.11" lengthAdjust="spacingAndGlyphs">-5</text>
<text class="tk" x="85.98" y="388.05" textLength="10.29" lengthAdjust="spacingAndGlyphs">0</text>
<text class="tk" x="86.35" y="336.05" textLength="10.29" lengthAdjust="spacingAndGlyphs">5</text>
<text class="tk" x="75.67" y="284.05" textLength="21.20" lengthAdjust="spacingAndGlyphs">10</text>
<text class="tk" x="76.25" y="231.05" textLength="20.99" lengthAdjust="spacingAndGlyphs">15</text>
<text class="tk" x="75.38" y="179.05" textLength="20.78" lengthAdjust="spacingAndGlyphs">20</text>
<text class="tk" x="76.24" y="127.05" textLength="20.36" lengthAdjust="spacingAndGlyphs">25</text>
<text class="tk" x="75.68" y="75.05" textLength="19.93" lengthAdjust="spacingAndGlyphs">30</text>
<text class="tk" x="131.05" y="555.90" textLength="44.92" lengthAdjust="spacingAndGlyphs">15:00</text>
<text class="tk" x="124.21" y="572.70" textLength="57.58" lengthAdjust="spacingAndGlyphs">Dec 16</text>
<text class="tk" x="268.81" y="555.90" textLength="45.57" lengthAdjust="spacingAndGlyphs">23:00</text>
<text class="tk" x="262.31" y="572.70" textLength="57.37" lengthAdjust="spacingAndGlyphs">Dec 16</text>
<text class="tk" x="407.00" y="555.90" textLength="45.02" lengthAdjust="spacingAndGlyphs">07:00</text>
<text class="tk" x="400.26" y="572.70" textLength="57.60" lengthAdjust="spacingAndGlyphs">Dec 17</text>
<text class="tk" x="544.96" y="555.90" textLength="44.65" lengthAdjust="spacingAndGlyphs">15:00</text>
<text class="tk" x="537.40" y="572.70" textLength="57.65" lengthAdjust="spacingAndGlyphs">Dec 17</text>
<text class="tk" x="681.72" y="555.90" textLength="45.46" lengthAdjust="spacingAndGlyphs">23:00</text>
<text class="tk" x="675.20" y="572.70" textLength="57.86" lengthAdjust="spacingAndGlyphs">Dec 17</text>
<text class="tk" x="363.20" y="591.50" textLength="93.91" lengthAdjust="spacingAndGlyphs">Date (GMT)</text>
<text class="tk" text-anchor="middle" transform="translate(62.2,300.3) rotate(-90)" textLength="129.8" lengthAdjust="spacingAndGlyphs">Temperature (C)</text>
<text class="ttl" x="301.27" y="44.80" textLength="219.06" lengthAdjust="spacingAndGlyphs">APOLLO Temperatures</text>
</g>
<g id="legend">
<rect x="112.3" y="69.5" width="149" height="120.8" fill="#fff" stroke="#000" stroke-width="1.4"/>
<line class="ln" style="stroke-width:0.8;stroke-opacity:0.8" stroke="#000" x1="127" x2="158.8" y1="85.32" y2="85.32"/>
<text class="lg" x="169.67" y="89.30" textLength="55.31" lengthAdjust="spacingAndGlyphs">Utah Air</text>
<line class="ln" style="stroke-width:0.8;stroke-opacity:0.8" stroke="#00f" x1="127" x2="158.8" y1="100.27" y2="100.27"/>
<text class="lg" x="170.15" y="104.23" textLength="77.32" lengthAdjust="spacingAndGlyphs">Cabinet Air</text>
<line class="ln" style="stroke-width:0.8;stroke-opacity:0.8" stroke="#f00" x1="127" x2="158.8" y1="115.22" y2="115.22"/>
<text class="lg" x="170.35" y="119.16" textLength="44.97" lengthAdjust="spacingAndGlyphs">ILE Air</text>
<line class="ln" style="stroke-width:0.8;stroke-opacity:0.8" stroke="#008000" x1="127" x2="158.8" y1="130.17" y2="130.17"/>
<text class="lg" x="170.50" y="134.09" textLength="65.97" lengthAdjust="spacingAndGlyphs">Dome Air</text>
<line class="ln" style="stroke-width:0.8;stroke-opacity:0.8" stroke="#000080" x1="127" x2="158.8" y1="145.12" y2="145.12"/>
<text class="lg" x="170.47" y="149.02" textLength="55.42" lengthAdjust="spacingAndGlyphs">ILE cool</text>
<line class="ln" style="stroke-width:0.8;stroke-opacity:0.8" stroke="#0ff" x1="127" x2="158.8" y1="160.07" y2="160.07"/>
<text class="lg" x="169.54" y="163.95" textLength="66.44" lengthAdjust="spacingAndGlyphs">Utah cool</text>
<line class="ln" style="stroke-width:0.8;stroke-opacity:0.8" stroke="#f00" x1="127" x2="158.8" y1="175.02" y2="175.02"/>
<text class="lg" x="169.59" y="178.88" textLength="66.48" lengthAdjust="spacingAndGlyphs">Utah heat</text>
</g>
</svg>
</body>
</html>
